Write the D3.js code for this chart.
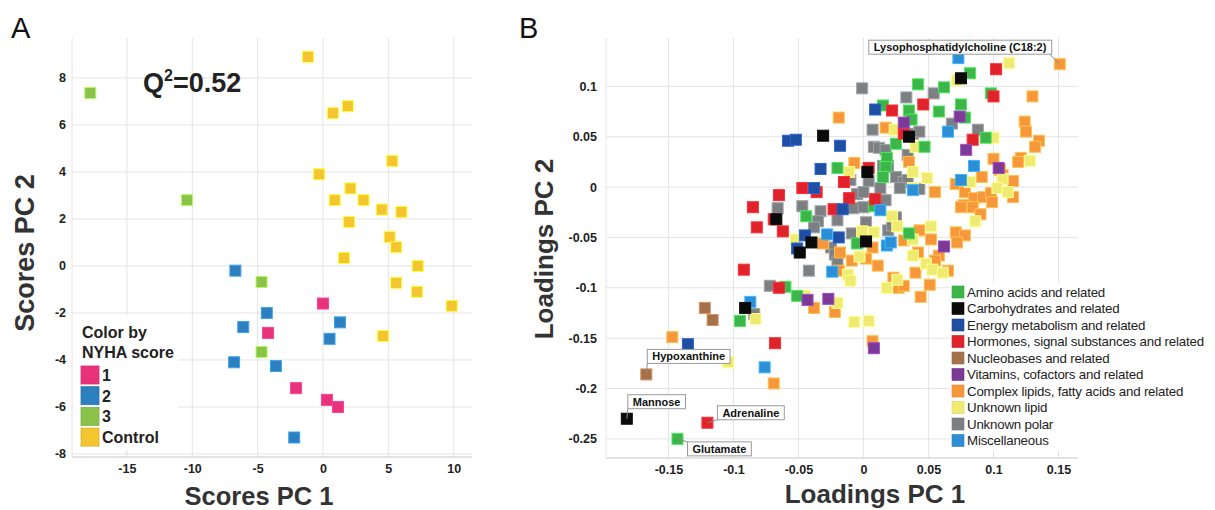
<!DOCTYPE html>
<html><head><meta charset="utf-8">
<script src="https://cdn.jsdelivr.net/npm/d3@7"></script>
<style>body{margin:0;background:#fff} svg{font-family:"Liberation Sans",Arial,sans-serif}</style>
</head><body><svg id="c" width="1215" height="510"></svg>
<script>
// ---------------- Panel A data (scores) ----------------
const scoreGroups = ["1", "2", "3", "Control"];
const scoreColors = ["#e8337a", "#2e7fbd", "#8bc34a", "#f3c530"];
const scoresNYHA1 = [[0,-1.6],[-4.2,-2.85],[-2.06,-5.2],[0.3,-5.7],[1.15,-6.0]];
const scoresNYHA2 = [[-6.7,-0.2],[-4.3,-2.0],[-6.1,-2.6],[1.3,-2.4],[0.5,-3.1],[-6.8,-4.1],[-3.6,-4.26],[-2.2,-7.3]];
const scoresNYHA3 = [[-17.8,7.36],[-10.4,2.8],[-4.7,-0.68],[-4.7,-3.66]];
const scoresControl = [[-1.15,8.9],[0.76,6.5],[1.9,6.8],[5.3,4.47],[-0.3,3.9],[2.1,3.3],[0.9,2.8],[3.1,2.8],[4.5,2.4],[6.0,2.3],[2.0,1.87],[5.1,1.23],[5.6,0.8],[1.6,0.34],[7.25,0],[5.6,-0.72],[7.2,-1.1],[9.85,-1.7],[4.6,-2.98]];
const scoresXTicks = [-15,-10,-5,0,5,10];
const scoresYTicks = [-8,-6,-4,-2,0,2,4,6,8];

// ---------------- Panel B data (loadings) ----------------
const loadCategories = ["Amino acids and related","Carbohydrates and related","Energy metabolism and related","Hormones, signal substances and related","Nucleobases and related","Vitamins, cofactors and related","Complex lipids, fatty acids and related","Unknown lipid","Unknown polar","Miscellaneous"];
const loadColors = ["#3cb54a","#0a0a0a","#1f4ea3","#e0232b","#a5714b","#7b3a96","#f7973c","#efeb72","#7d8083","#2d8ed6"];
const aminoAcids = [[0.015,0.081],[0.042,0.102],[0.062,0.099],[0.082,0.113],[0.098,0.093],[0.075,0.082],[0.035,0.076],[0.058,0.075],[0.078,0.069],[0.037,0.067],[0.025,0.043],[0.047,0.040],[0.094,0.049],[0.018,0.029],[0.017,0.020],[0.015,0.010],[-0.020,0.019],[-0.044,-0.029],[0.008,-0.019],[-0.005,-0.056],[0.035,-0.046],[-0.060,-0.099],[-0.051,-0.108],[-0.095,-0.133],[-0.143,-0.250]];
const carbohydrates = [[0.075,0.108],[0.035,0.050],[-0.031,0.051],[0.003,0.015],[-0.067,-0.032],[-0.040,-0.055],[-0.049,-0.065],[0.002,-0.054],[-0.091,-0.120],[-0.182,-0.230]];
const energyMetabolism = [[0.009,0.077],[-0.058,0.046],[-0.052,0.047],[-0.018,0.041],[-0.033,0.018],[-0.038,-0.001],[-0.016,-0.022],[-0.051,-0.061],[-0.019,-0.050],[-0.045,-0.048],[-0.135,-0.156]];
const hormones = [[0.102,0.117],[0.100,0.090],[0.046,0.082],[0.022,0.076],[0.031,0.053],[0.084,0.047],[0.004,0.019],[-0.015,0.005],[-0.047,-0.001],[-0.036,-0.005],[-0.065,-0.008],[-0.011,-0.011],[0.009,-0.012],[-0.085,-0.020],[-0.023,-0.022],[-0.069,-0.032],[-0.082,-0.040],[-0.062,-0.044],[-0.092,-0.082],[-0.065,-0.100],[-0.068,-0.155],[-0.120,-0.234]];
const nucleobases = [[-0.122,-0.120],[-0.116,-0.132],[-0.167,-0.186]];
const vitamins = [[0.031,0.064],[0.074,0.070],[0.079,0.037],[0.104,0.019],[0.062,-0.059],[-0.043,-0.112],[-0.027,-0.111],[0.008,-0.160]];
const complexLipids = [[0.151,0.122],[0.130,0.090],[0.124,0.065],[0.125,0.055],[0.135,0.046],[0.132,0.040],[-0.019,0.069],[0.017,0.059],[-0.007,0.024],[0.035,0.025],[0.100,0.028],[0.121,0.029],[0.119,0.025],[0.105,0.017],[0.107,0.012],[0.115,0.006],[0.091,0.010],[0.071,0.003],[0.055,-0.005],[0.078,-0.005],[0.085,-0.011],[0.077,-0.018],[0.084,-0.020],[0.092,-0.010],[0.098,-0.006],[0.099,-0.015],[0.115,-0.010],[0.075,-0.020],[0.090,-0.027],[0.071,-0.045],[0.078,-0.048],[0.072,-0.055],[0.043,-0.043],[0.052,-0.052],[0.031,-0.053],[0.058,-0.068],[0.055,-0.073],[0.065,-0.083],[0.042,-0.065],[0.040,-0.085],[0.051,-0.097],[0.044,-0.109],[0.023,-0.090],[0.027,-0.100],[0.031,-0.098],[0.011,-0.078],[0.007,-0.060],[0.002,-0.071],[-0.009,-0.073],[-0.031,-0.056],[-0.018,-0.065],[-0.019,-0.083],[-0.038,-0.120],[-0.022,-0.124],[0.007,-0.153],[-0.147,-0.149],[-0.069,-0.195]];
const unknownLipid = [[0.112,0.123],[0.072,0.106],[0.024,0.057],[0.040,0.040],[0.100,0.049],[-0.011,0.015],[0.038,0.015],[0.128,0.026],[0.107,0.008],[0.049,0.009],[0.082,0.005],[0.038,-0.001],[0.103,-0.001],[0.111,-0.005],[0.086,-0.034],[0.052,-0.039],[0.038,-0.052],[0.022,-0.029],[0.026,-0.039],[-0.001,-0.044],[0.008,-0.045],[-0.052,-0.052],[-0.003,-0.069],[-0.012,-0.087],[-0.010,-0.093],[0.018,-0.100],[0.026,-0.092],[0.038,-0.068],[0.048,-0.076],[0.053,-0.082],[0.061,-0.085],[-0.045,-0.108],[-0.020,-0.115],[-0.007,-0.134],[0.004,-0.133],[-0.083,-0.131],[-0.104,-0.174]];
const unknownPolar = [[-0.001,0.098],[0.033,0.089],[0.054,0.093],[0.007,0.057],[0.038,0.053],[0.043,0.055],[0.068,0.063],[0.088,0.057],[0.008,0.040],[0.012,0.039],[0.017,0.037],[0.034,0.032],[0.015,0.021],[0.019,0.021],[-0.010,0.007],[0.004,0.006],[0.025,0.010],[0.031,0.005],[0.034,0.007],[0.028,-0.001],[0.043,-0.002],[0.013,-0.001],[-0.005,-0.007],[0.000,-0.005],[0.017,-0.013],[-0.066,-0.021],[-0.047,-0.019],[-0.033,-0.024],[-0.008,-0.021],[0.000,-0.020],[-0.035,-0.034],[-0.038,-0.040],[-0.020,-0.033],[0.002,-0.035],[-0.009,-0.046],[0.019,-0.043],[0.025,-0.030],[0.022,-0.038],[-0.025,-0.060],[-0.022,-0.067],[-0.020,-0.074],[-0.042,-0.083],[-0.072,-0.098],[-0.084,-0.126]];
const miscellaneous = [[0.073,0.128],[0.065,0.055],[0.075,0.007],[0.038,-0.003],[0.085,0.021],[0.013,-0.023],[-0.028,-0.047],[0.018,-0.058],[0.021,-0.055],[-0.024,-0.084],[-0.087,-0.114],[-0.076,-0.179]];
const loadXTicks = [-0.15,-0.1,-0.05,0,0.05,0.1,0.15];
const loadYTicks = [-0.25,-0.2,-0.15,-0.1,-0.05,0,0.05,0.1];
const annotNames = ["Lysophosphatidylcholine (C18:2)","Hypoxanthine","Mannose","Adrenaline","Glutamate"];
const annotPoints = [[0.151,0.122],[-0.167,-0.186],[-0.182,-0.230],[-0.120,-0.234],[-0.143,-0.250]];

// ---------------- drawing ----------------
const svg = d3.select("#c");
const GRID = "#e4e4e4";
const SQ = 11;

function drawAxes(g, x, y, xt, yt, fmt, tickPadY) {
  const [x0, x1] = x.range(), [y0, y1] = y.range();
  g.append("g").selectAll("line").data(xt).join("line")
    .attr("x1", d => x(d)).attr("x2", d => x(d)).attr("y1", y1).attr("y2", y0)
    .attr("stroke", GRID);
  g.append("g").selectAll("line").data(yt).join("line")
    .attr("x1", x0).attr("x2", x1).attr("y1", d => y(d)).attr("y2", d => y(d))
    .attr("stroke", GRID);
  g.append("line").attr("x1", x0).attr("x2", x0).attr("y1", y1).attr("y2", y0).attr("stroke", GRID);
  g.append("line").attr("x1", x0).attr("x2", x1).attr("y1", y0).attr("y2", y0).attr("stroke", "#c8c8c8");
  const ax = g.append("g").attr("transform", `translate(0,${y0})`)
    .call(d3.axisBottom(x).tickValues(xt).tickSize(0).tickPadding(7).tickFormat(fmt));
  const ay = g.append("g").attr("transform", `translate(${x0},0)`)
    .call(d3.axisLeft(y).tickValues(yt).tickSize(0).tickPadding(tickPadY).tickFormat(fmt));
  [ax, ay].forEach(a => {
    a.select(".domain").remove();
    a.selectAll("text").attr("font-size", 12.5).attr("font-weight", "bold").attr("fill", "#222")
      .attr("font-family", "Liberation Sans, Arial, sans-serif");
  });
}

function squares(g, x, y, data, color, size) {
  g.append("g").selectAll("rect").data(data).join("rect")
    .attr("x", d => x(d[0]) - size / 2).attr("y", d => y(d[1]) - size / 2)
    .attr("width", size).attr("height", size)
    .attr("fill", color)
    .attr("stroke", d3.color(color).brighter(0.7).formatHex())
    .attr("stroke-width", 1);
}

// Panel A
const xA = d3.scaleLinear().domain([-19.2, 11.4]).range([72, 472]);
const yA = d3.scaleLinear().domain([-8.13, 9.7]).range([457, 38]);
const gA = svg.append("g");
drawAxes(gA, xA, yA, scoresXTicks, scoresYTicks, d => String(d), 6);
const scoreSets = [scoresNYHA1, scoresNYHA2, scoresNYHA3, scoresControl];
scoreSets.forEach((s, i) => squares(gA, xA, yA, s, scoreColors[i], SQ));

svg.append("text").attr("x", 11).attr("y", 38).attr("font-size", 29).attr("fill", "#111").text("A");
const q = svg.append("text").attr("x", 143).attr("y", 92).attr("font-size", 27).attr("font-weight", "bold").attr("fill", "#222");
q.append("tspan").text("Q");
q.append("tspan").attr("font-size", 16).attr("dy", -11).text("2");
q.append("tspan").attr("dy", 11).text("=0.52");

svg.append("text").attr("x", 259).attr("y", 505).attr("text-anchor", "middle")
  .attr("font-size", 25.5).attr("font-weight", "bold").attr("fill", "#333").text("Scores PC 1");
svg.append("text").attr("transform", "translate(34,253) rotate(-90)").attr("text-anchor", "middle")
  .attr("font-size", 27).attr("font-weight", "bold").attr("fill", "#333").text("Scores PC 2");

// legend A
const legA = svg.append("g");
legA.append("rect").attr("x", 73).attr("y", 316).attr("width", 105).attr("height", 134).attr("fill", "#fff");
legA.append("text").attr("x", 82).attr("y", 338).attr("font-size", 16).attr("font-weight", "bold").attr("fill", "#222").text("Color by");
legA.append("text").attr("x", 82).attr("y", 358).attr("font-size", 16).attr("font-weight", "bold").attr("fill", "#222").text("NYHA score");
scoreGroups.forEach((n, i) => {
  const yy = 366 + i * 20.7;
  legA.append("rect").attr("x", 81).attr("y", yy).attr("width", 18).attr("height", 18)
    .attr("fill", scoreColors[i]).attr("stroke", d3.color(scoreColors[i]).darker(0.3).formatHex()).attr("stroke-width", 0.8);
  legA.append("text").attr("x", 102).attr("y", yy + 15).attr("font-size", 16).attr("font-weight", "bold").attr("fill", "#222").text(n);
});

// Panel B
const xB = d3.scaleLinear().domain([-0.198, 0.165]).range([606, 1078]);
const yB = d3.scaleLinear().domain([-0.269, 0.148]).range([458, 38]);
const gB = svg.append("g");
drawAxes(gB, xB, yB, loadXTicks, loadYTicks, d => String(d), 9);
const loadSets = [aminoAcids, carbohydrates, energyMetabolism, hormones, nucleobases, vitamins, complexLipids, unknownLipid, unknownPolar, miscellaneous];
const drawOrder = [8, 6, 7, 0, 3, 2, 9, 5, 1, 4];
drawOrder.forEach(i => squares(gB, xB, yB, loadSets[i], loadColors[i], SQ));

svg.append("text").attr("x", 519).attr("y", 38).attr("font-size", 29).attr("fill", "#111").text("B");
svg.append("text").attr("x", 875).attr("y", 503).attr("text-anchor", "middle")
  .attr("font-size", 26).attr("font-weight", "bold").attr("fill", "#333").text("Loadings PC 1");
svg.append("text").attr("transform", "translate(553,249) rotate(-90)").attr("text-anchor", "middle")
  .attr("font-size", 26).attr("font-weight", "bold").attr("fill", "#333").text("Loadings PC 2");

// annotations: box offset relative to point (px)
const annotOffsets = [[-191, -24], [1, -25], [1, -24], [10, -17], [10, 3]];
annotNames.forEach((name, i) => {
  const px = xB(annotPoints[i][0]), py = yB(annotPoints[i][1]);
  const [ox, oy] = annotOffsets[i];
  const g = svg.append("g");
  const t = g.append("text").attr("x", px + ox + 5).attr("y", py + oy + 11)
    .attr("font-size", 11).attr("font-weight", "bold").attr("fill", "#111").text(name);
  const bb = t.node().getBBox();
  const bx = bb.x - 5, by = py + oy, bw = bb.width + 10, bh = 14;
  let lx1, ly1;
  if (i === 0) { lx1 = bx + bw - 2; ly1 = by + bh; }
  else if (i === 4) { lx1 = bx; ly1 = by; }
  else { lx1 = bx; ly1 = by + bh; }
  g.insert("line", "text").attr("x1", lx1).attr("y1", ly1).attr("x2", px).attr("y2", py).attr("stroke", "#888").attr("stroke-width", 1);
  g.insert("rect", "text").attr("x", bx).attr("y", by).attr("width", bw).attr("height", bh)
    .attr("fill", "#fff").attr("stroke", "#999").attr("stroke-width", 1);
});

// legend B
const legB = svg.append("g");
legB.append("rect").attr("x", 950).attr("y", 283).attr("width", 262).attr("height", 167).attr("fill", "#fff");
loadCategories.forEach((n, i) => {
  const yc = 292 + i * 16.5;
  legB.append("rect").attr("x", 952).attr("y", yc - 6).attr("width", 12).attr("height", 12)
    .attr("fill", loadColors[i]).attr("stroke", d3.color(loadColors[i]).darker(0.3).formatHex()).attr("stroke-width", 0.6);
  legB.append("text").attr("x", 967).attr("y", yc + 4.7).attr("font-size", 13.3).attr("fill", "#222")
    .attr("letter-spacing", -0.2).text(n);
});
</script></body></html>
